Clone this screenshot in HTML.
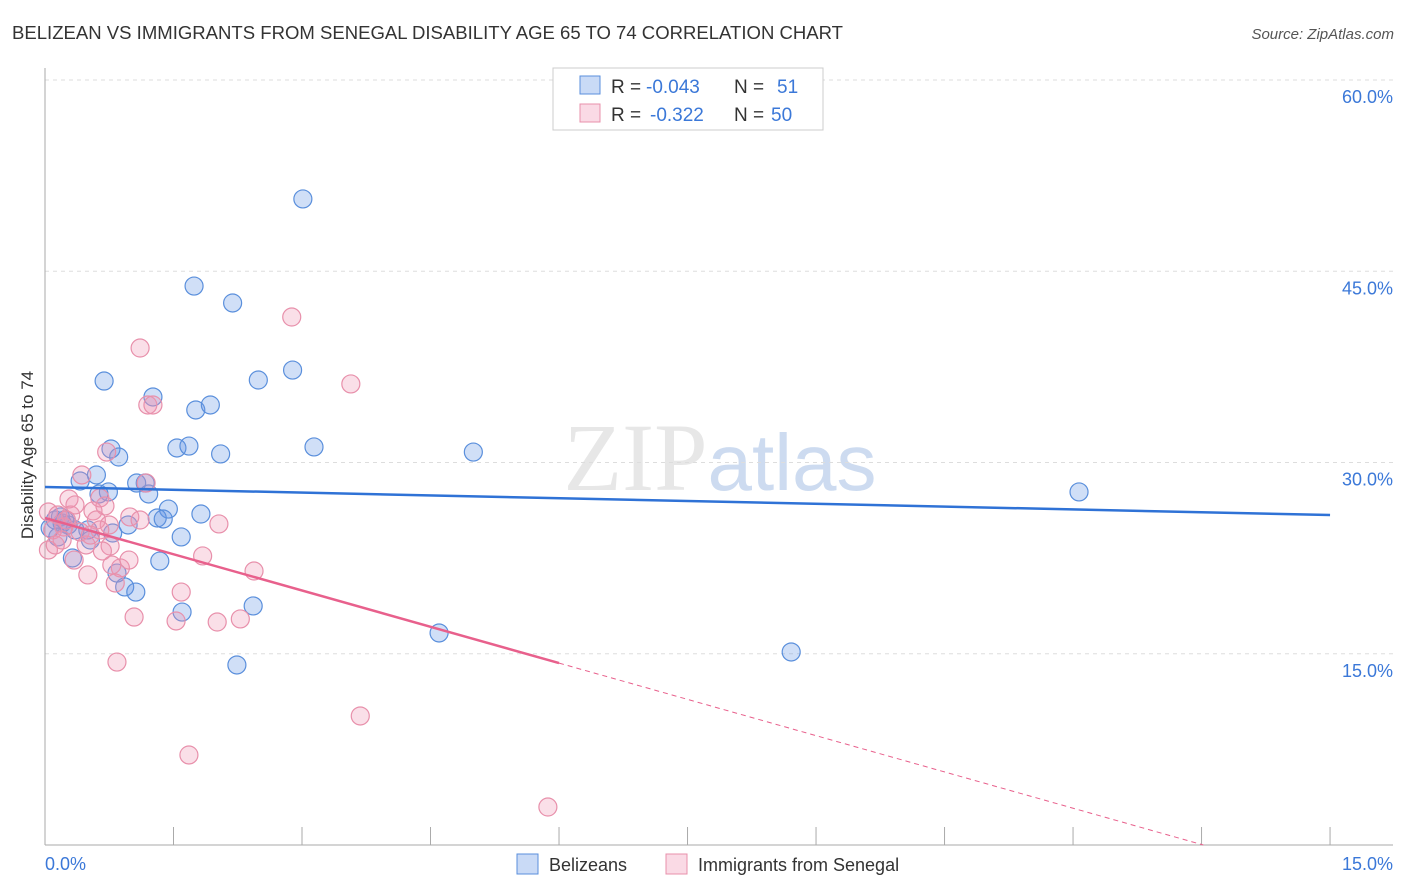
<!DOCTYPE html>
<html><head><meta charset="utf-8"><style>
body{margin:0;background:#fff;font-family:"Liberation Sans",sans-serif}
svg{display:block}
</style></head><body>
<svg id="chart" width="1406" height="892" viewBox="0 0 1406 892">
<text x="12" y="39" font-size="18" fill="#333" textLength="831" lengthAdjust="spacingAndGlyphs">BELIZEAN VS IMMIGRANTS FROM SENEGAL DISABILITY AGE 65 TO 74 CORRELATION CHART</text>
<text x="1394" y="39" font-size="15" fill="#555" text-anchor="end" font-style="italic">Source: ZipAtlas.com</text>
<text x="720" y="490" font-size="96" text-anchor="middle" fill="#ddd" font-family="Liberation Serif,serif" opacity="0.7">ZIP<tspan fill="#b8cdea" font-family="Liberation Sans,sans-serif" font-size="80">atlas</tspan></text>
<g id="grid"></g>
<g id="axes"></g>
<g id="points"></g>
<g id="trends"></g>
<text transform="translate(33,455) rotate(-90)" font-size="17" fill="#333" text-anchor="middle">Disability Age 65 to 74</text>
<g>
<rect x="553" y="68" width="270" height="62" fill="#fff" stroke="#ccc"/>
<rect x="580" y="76" width="20" height="18" fill="rgba(100,150,230,0.35)" stroke="#5a8fdc"/>
<rect x="580" y="104" width="20" height="18" fill="rgba(240,150,180,0.35)" stroke="#e890ab"/>
<text x="611" y="93" font-size="19" fill="#333">R =</text>
<text x="646" y="93" font-size="19" fill="#3b78d8">-0.043</text>
<text x="734" y="93" font-size="19" fill="#333">N =</text>
<text x="777" y="93" font-size="19" fill="#3b78d8">51</text>
<text x="611" y="121" font-size="19" fill="#333">R =</text>
<text x="650" y="121" font-size="19" fill="#3b78d8">-0.322</text>
<text x="734" y="121" font-size="19" fill="#333">N =</text>
<text x="771" y="121" font-size="19" fill="#3b78d8">50</text>
</g>
<g>
<rect x="517" y="854" width="21" height="20" fill="rgba(100,150,230,0.35)" stroke="#5a8fdc"/>
<text x="549" y="871" font-size="18" fill="#333">Belizeans</text>
<rect x="666" y="854" width="21" height="20" fill="rgba(240,150,180,0.35)" stroke="#e890ab"/>
<text x="698" y="871" font-size="18" fill="#333">Immigrants from Senegal</text>
</g>
</svg>
<script>
const yTicks=[15,30,45,60];
const yTickLabels=["15.0%","30.0%","45.0%","60.0%"];
const xTicks=[0,1.5,3,4.5,6,7.5,9,10.5,12,13.5,15];
const blueX=[3.01,1.74,2.19,0.69,2.49,2.89,1.26,1.76,1.93,0.77,0.86,1.54,1.68,2.05,3.14,5.00,12.07,0.60,0.41,0.74,0.63,1.07,1.17,1.21,1.44,1.82,1.31,1.38,0.97,0.12,0.20,0.27,0.50,0.15,1.59,0.79,0.32,1.34,0.84,0.93,1.06,2.43,1.60,4.60,8.71,2.24,0.06,0.18,0.35,0.53,0.23];
const blueY=[50.67,43.84,42.51,36.39,36.47,37.25,35.14,34.12,34.51,31.06,30.43,31.14,31.29,30.67,31.22,30.82,27.69,29.02,28.55,27.69,27.53,28.39,28.39,27.53,26.35,25.96,25.65,25.57,25.10,25.49,25.25,25.10,24.71,24.16,24.16,24.47,22.51,22.27,21.33,20.24,19.84,18.75,18.27,16.63,15.14,14.12,24.86,25.73,24.71,23.92,25.49];
const pinkX=[2.88,1.11,3.57,1.20,1.26,0.72,0.43,1.18,0.28,0.64,0.56,0.70,0.60,0.99,0.30,0.04,0.15,0.09,0.22,0.04,0.12,0.41,0.48,0.76,0.75,2.03,1.84,2.44,0.67,0.34,0.50,0.88,0.98,0.78,0.82,1.59,1.04,1.53,2.01,2.28,0.84,3.68,1.68,5.87,0.20,0.64,0.35,0.25,0.53,1.11];
const pinkY=[41.41,38.98,36.16,34.51,34.51,30.82,29.02,28.39,27.14,27.22,26.20,26.59,25.49,25.73,25.88,26.12,25.88,24.71,24.94,23.14,23.53,24.55,23.53,23.45,25.10,25.18,22.67,21.49,23.06,22.35,21.18,21.73,22.35,21.96,20.55,19.84,17.88,17.57,17.49,17.73,14.35,10.12,7.06,2.98,23.92,24.71,26.67,25.49,24.31,25.49];
const blueTrend=[28.08,25.88];
const pinkTrend=[25.65,-1.897];
const NS="http://www.w3.org/2000/svg";
const X=v=>45+v*85.67, Y=v=>845-v*12.75;
function mk(p,tag,at){const e=document.createElementNS(NS,tag);for(const k in at)e.setAttribute(k,at[k]);p.appendChild(e);return e;}
const grid=document.getElementById('grid'),axes=document.getElementById('axes'),pts=document.getElementById('points'),tr=document.getElementById('trends');
yTicks.forEach((t,i)=>{
 const l=mk(grid,'line',{x1:45,x2:1393,y1:Y(t),y2:Y(t),stroke:'#ddd','stroke-dasharray':'4,4'});
 
 
 const tx=mk(axes,'text',{x:1393,y:Y(t)+23,'font-size':18,fill:'#3b78d8','text-anchor':'end'});
 tx.textContent=yTickLabels[i];
 
 
});
const ax=mk(axes,'line',{x1:45,x2:45,y1:68,y2:845,stroke:'#aaa'});


const bx=mk(axes,'line',{x1:45,x2:1393,y1:845,y2:845,stroke:'#aaa'});


xTicks.forEach(t=>{
 const l=mk(axes,'line',{x1:X(t),x2:X(t),y1:827,y2:845,stroke:'#aaa'});
 
 
});
[["0.0%",45,'start'],["15.0%",1393,'end']].forEach(a=>{
 const tx=mk(axes,'text',{x:a[1],y:870,'font-size':18,fill:'#3b78d8','text-anchor':a[2]});
 tx.textContent=a[0];
 
 
});
blueX.forEach((v,i)=>{
 const c=mk(pts,'circle',{cx:X(v),cy:Y(blueY[i]),r:9,fill:'rgba(100,150,230,0.3)',stroke:'#5a8fdc','stroke-width':1.2});
 
 
});
pinkX.forEach((v,i)=>{
 const c=mk(pts,'circle',{cx:X(v),cy:Y(pinkY[i]),r:9,fill:'rgba(240,150,180,0.3)',stroke:'#e890ab','stroke-width':1.2});
 
 
});
const bl=mk(tr,'line',{x1:X(0),y1:Y(blueTrend[0]),x2:X(15),y2:Y(blueTrend[1]),stroke:'#2f72d6','stroke-width':2.5});


const pe=6, pz=-pinkTrend[0]/pinkTrend[1];
const pl=mk(tr,'line',{x1:X(0),y1:Y(pinkTrend[0]),x2:X(pe),y2:Y(pinkTrend[0]+pinkTrend[1]*pe),stroke:'#e8608c','stroke-width':2.5});


const pd=mk(tr,'line',{x1:X(pe),y1:Y(pinkTrend[0]+pinkTrend[1]*pe),x2:X(pz),y2:Y(0),stroke:'#e8608c','stroke-width':1,'stroke-dasharray':'5,4'});


</script>
</body></html>
